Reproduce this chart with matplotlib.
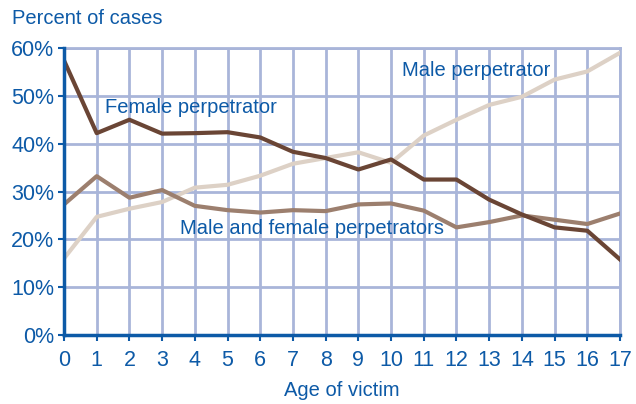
import matplotlib

matplotlib.use('Agg')
import matplotlib.pyplot as plt
from matplotlib.ticker import FuncFormatter

ages = list(range(18))
female = [57.4, 42.2, 45.0, 42.1, 42.2, 42.4, 41.3, 38.3, 37.0, 34.6,
          36.7, 32.5, 32.5, 28.3, 25.2, 22.5, 21.8, 15.8]
male = [16.0, 24.7, 26.4, 27.8, 30.8, 31.4, 33.3, 35.8, 37.0, 38.2,
        36.0, 41.7, 45.0, 48.1, 49.8, 53.4, 55.1, 59.0]
both = [27.3, 33.2, 28.7, 30.3, 27.0, 26.1, 25.6, 26.1, 25.9, 27.3,
        27.5, 26.0, 22.5, 23.6, 25.0, 24.1, 23.2, 25.4]
y_ticks = [0, 10, 20, 30, 40, 50, 60]

blue = '#0d5aa7'
grid_c = '#a9b5d9'

plt.rcParams['font.family'] = ['Liberation Sans', 'DejaVu Sans']

fig = plt.figure(figsize=(6.36, 4.04), dpi=100)
ax = fig.add_axes([64 / 636, 1 - 335 / 404, (620 - 64) / 636, (335 - 48) / 404])

ax.plot(ages, male, color='#ddd1c6', lw=3.0, solid_joinstyle='round', zorder=3)
ax.plot(ages, both, color='#9c7f6e', lw=3.0, solid_joinstyle='round', zorder=4)
ax.plot(ages, female, color='#6a4535', lw=3.0, solid_joinstyle='round', zorder=5)

ax.set_xlim(0, 17)
ax.set_ylim(0, 60)
ax.set_xticks(ages)
ax.set_yticks(y_ticks)
ax.yaxis.set_major_formatter(FuncFormatter(lambda v, _: f'{v:.0f}%'))

ax.grid(True, color=grid_c, lw=2, zorder=1)
ax.set_axisbelow(True)
for side in ['top', 'right']:
    ax.spines[side].set_color(grid_c)
    ax.spines[side].set_linewidth(2)
for side in ['left', 'bottom']:
    ax.spines[side].set_color(blue)
    ax.spines[side].set_linewidth(2.5)
    ax.spines[side].set_zorder(6)

ax.tick_params(colors=blue, labelcolor=blue, labelsize=15.5, width=1.5, length=4, direction='out')
ax.tick_params(axis='x', pad=7)
ax.tick_params(axis='y', pad=3)

fig.text(12 / 636, 1 - 18 / 404, 'Percent of cases', color=blue, fontsize=14.5, va='center', ha='left')
fig.text(342 / 636, 1 - 391 / 404, 'Age of victim', color=blue, fontsize=14.5, va='center', ha='center')

ax.text(1.25, 47.5, 'Female perpetrator', color=blue, fontsize=14.5, va='center', ha='left', zorder=7)
ax.text(10.34, 55.4, 'Male perpetrator', color=blue, fontsize=14.5, va='center', ha='left', zorder=7)
ax.text(3.55, 22.2, 'Male and female perpetrators', color=blue, fontsize=14.5, va='center', ha='left', zorder=7)

plt.savefig('out.png', dpi=100)
plt.close(fig)
